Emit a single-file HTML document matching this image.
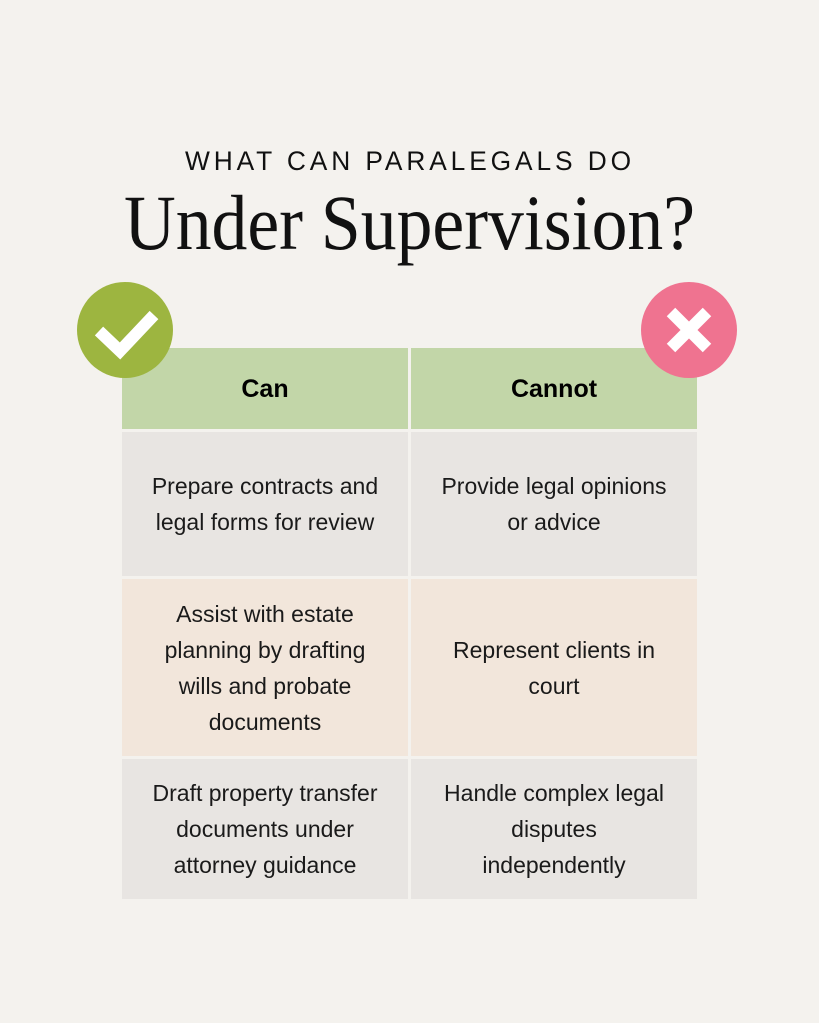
<!DOCTYPE html>
<html><head><meta charset="utf-8">
<style>
html,body{margin:0;padding:0;}
body{width:819px;height:1023px;background:#f4f2ee;position:relative;overflow:hidden;font-family:"Liberation Sans",sans-serif;color:#111;}
.fit{position:absolute;white-space:nowrap;transform-origin:0 0;}
#sub{top:146px;left:185px;font-size:27px;letter-spacing:4px;}
#ttl{top:178px;left:124px;font-family:"Liberation Serif",serif;font-size:78px;}
.cell{position:absolute;display:flex;align-items:center;justify-content:center;text-align:center;font-size:23px;line-height:36px;color:#1a1a1a;}
.h{background:#c2d6a8;font-weight:bold;font-size:25px;color:#000;}
.g{background:#e8e5e2;}
.b{background:#f2e6db;}
.circ{position:absolute;width:96px;height:96px;border-radius:50%;}
</style></head><body>
<div id="sub" class="fit" data-w="450">WHAT CAN PARALEGALS DO</div>
<div id="ttl" class="fit" data-w="571">Under Supervision?</div>

<div class="cell h" style="left:122px;top:348px;width:286px;height:81px;">Can</div>
<div class="cell h" style="left:411px;top:348px;width:286px;height:81px;">Cannot</div>

<div class="cell g" style="left:122px;top:432px;width:286px;height:144px;">Prepare contracts and<br>legal forms for review</div>
<div class="cell g" style="left:411px;top:432px;width:286px;height:144px;">Provide legal opinions<br>or advice</div>

<div class="cell b" style="left:122px;top:579px;width:286px;height:177px;">Assist with estate<br>planning by drafting<br>wills and probate<br>documents</div>
<div class="cell b" style="left:411px;top:579px;width:286px;height:177px;">Represent clients in<br>court</div>

<div class="cell g" style="left:122px;top:759px;width:286px;height:140px;">Draft property transfer<br>documents under<br>attorney guidance</div>
<div class="cell g" style="left:411px;top:759px;width:286px;height:140px;">Handle complex legal<br>disputes<br>independently</div>

<div class="circ" style="left:77px;top:282px;background:#9db540;">
<svg width="96" height="96" viewBox="0 0 96 96"><polyline points="22,49 43,69 77,33" fill="none" stroke="#fff" stroke-width="12"/></svg></div>
<div class="circ" style="left:641px;top:282px;background:#ef7390;">
<svg width="96" height="96" viewBox="0 0 96 96"><path d="M30 30 L66 66 M66 30 L30 66" stroke="#fff" stroke-width="12"/></svg></div>

<script>
document.querySelectorAll('.fit').forEach(function(e){
 var w=e.getBoundingClientRect().width, t=+e.dataset.w;
 e.style.transform='scaleX('+(t/w)+')';
});
</script>
</body></html>
